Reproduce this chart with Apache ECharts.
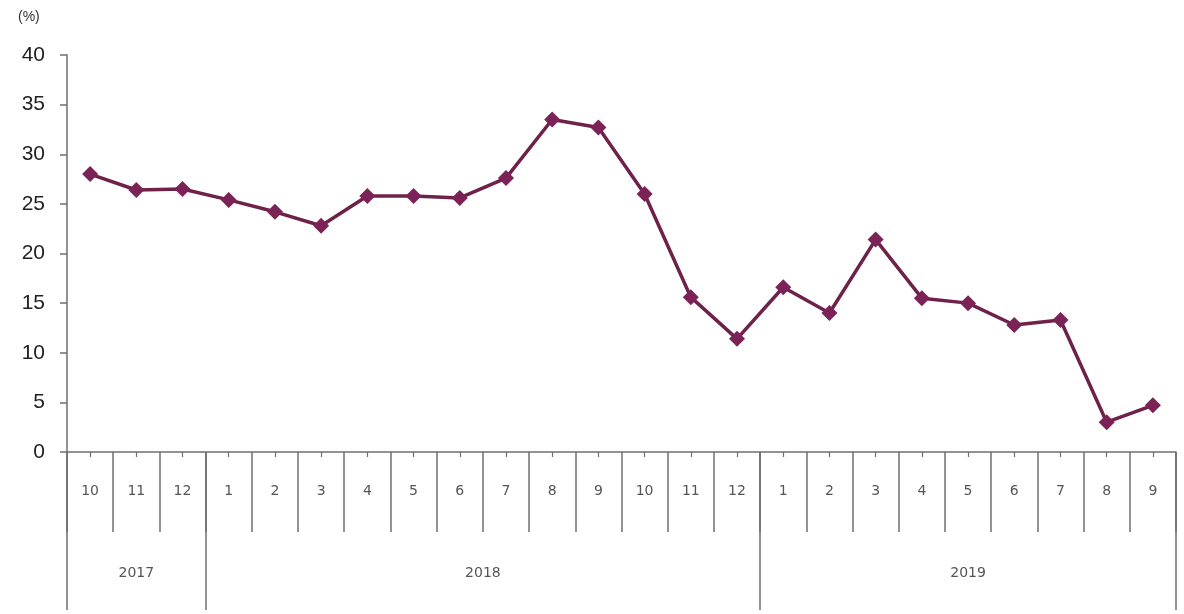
<!DOCTYPE html>
<html>
<head>
<meta charset="utf-8">
<script src="https://cdn.jsdelivr.net/npm/echarts@6/dist/echarts.min.js"></script>
<style>html,body{margin:0;padding:0;background:#fff}#c{width:1184px;height:614px}</style>
</head>
<body>
<div id="c"></div>
<script>
var months = ['10','11','12','1','2','3','4','5','6','7','8','9','10','11','12','1','2','3','4','5','6','7','8','9'];
var values = [28.0, 26.4, 26.5, 25.4, 24.2, 22.8, 25.8, 25.8, 25.6, 27.6, 33.5, 32.7, 26.0, 15.6, 11.4, 16.6, 14.0, 21.4, 15.5, 15.0, 12.8, 13.3, 3.0, 4.7];
var years = ['2017', '2018', '2019'];
var yearBounds = [0, 3, 15, 24];
var yearCenters = [1.5, 9, 19.5];
var yTicks = [0, 5, 10, 15, 20, 25, 30, 35, 40];

var axisGray = '#6f6f6f';
var chart = echarts.init(document.getElementById('c'));
chart.setOption({
  animation: false,
  title: {
    text: '(%)', left: 13, top: 5,
    textStyle: {fontSize: 14, fontWeight: 'normal', color: '#333', fontFamily: 'Liberation Sans'}
  },
  grid: {left: 67, right: 8, top: 55, bottom: 162},
  xAxis: [
    {
      type: 'category', data: months, boundaryGap: true, position: 'bottom',
      axisLine: {show: true, lineStyle: {color: axisGray, width: 1.5}},
      axisTick: {show: true, interval: 0, length: 80, lineStyle: {color: axisGray, width: 1.5}},
      axisLabel: {interval: 0, margin: 32, fontSize: 14, color: '#555', fontFamily: 'DejaVu Sans'},
      splitLine: {show: false}
    },
    {
      type: 'category', data: months, boundaryGap: true, position: 'bottom',
      axisLine: {show: false},
      axisTick: {show: true, interval: 0, alignWithLabel: true, length: 5, lineStyle: {color: axisGray, width: 1.2}},
      axisLabel: {show: false},
      splitLine: {show: false}
    },
    {
      type: 'value', min: 0, max: 24, position: 'bottom',
      axisLine: {show: false},
      axisTick: {show: true, customValues: yearBounds, length: 158, lineStyle: {color: axisGray, width: 1.5}},
      axisLabel: {
        show: true, customValues: yearCenters, margin: 114, fontSize: 14, color: '#555', fontFamily: 'DejaVu Sans',
        formatter: function (v) { var i = yearCenters.indexOf(v); return i >= 0 ? years[i] : ''; }
      },
      splitLine: {show: false}
    }
  ],
  yAxis: {
    type: 'value', min: 0, max: 40, interval: 5,
    axisLine: {show: true, lineStyle: {color: axisGray, width: 1.5}},
    axisTick: {show: true, length: 7, lineStyle: {color: axisGray, width: 1.5}},
    axisLabel: {
      margin: 22, fontSize: 21, color: '#222', fontFamily: 'Liberation Sans',
      customValues: yTicks
    },
    splitLine: {show: false}
  },
  series: [{
    type: 'line', data: values, xAxisIndex: 0, yAxisIndex: 0,
    symbol: 'diamond', symbolSize: 16,
    lineStyle: {color: '#6f2249', width: 3.5},
    itemStyle: {color: '#7b2356'}
  }]
});
</script>
</body>
</html>
